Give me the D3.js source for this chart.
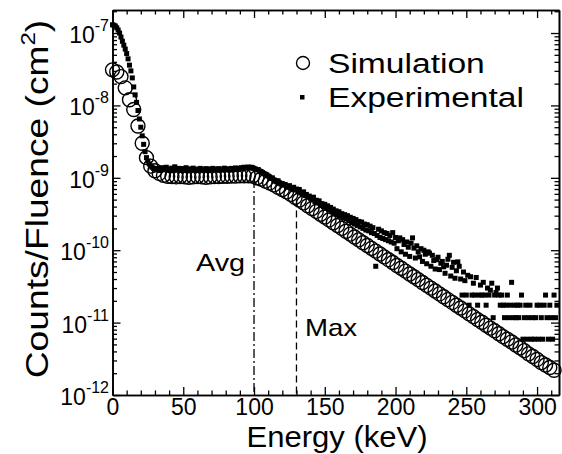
<!DOCTYPE html>
<meta charset="utf-8">
<body style="margin:0;background:#fff">
<script src="https://cdn.jsdelivr.net/npm/d3@7/dist/d3.min.js"></script>
<script>

// values are in units of 1e-12 counts/fluence
var unit = 1e-12;

// simulation, one point every 3 keV starting at 0
var simStep = 3;
var simValues = [
 31000, 29000, 25000, 17500, 12000, 8800, 5200, 3000, 1900, 1450,
 1250, 1150, 1080, 1050, 1040, 1030, 1040, 1030, 1020, 1030,
 1040, 1030, 1020, 1030, 1040, 1040, 1050, 1050, 1060, 1060,
 1070, 1070, 1070, 1060, 1000, 960, 900, 850, 800, 740,
 690, 640, 590, 540, 494, 451, 412, 377, 344, 314,
 287, 262, 239, 219, 200, 183, 167, 152, 139, 127,
 116, 106, 97, 88.5, 81, 74, 67.5, 61.6, 56.3, 51.4,
 47, 42.9, 39.2, 35.8, 32.7, 29.9, 27.3, 24.9, 22.8, 20.8,
 19, 17.4, 15.9, 14.5, 13.2, 12.1, 11, 10.1, 9.2, 8.4,
 7.7, 7, 6.4, 5.9, 5.4, 4.9, 4.5, 4.1, 3.7, 3.4,
 3.1, 2.8, 2.6, 2.4, 2.2
];

// experimental, one point every keV starting at 0
var expStep = 1;
var expValues = [
 130000, 128000, 125000, 118000, 110000, 100000, 88000, 77000, 68000, 60000,
 52000, 44000, 36000, 30000, 24000, 18000, 14000, 11000, 8500, 6500,
 5000, 3800, 2900, 2300, 1900, 1700, 1550, 1450, 1400, 1350,
 1320, 1280, 1350, 1300, 1260, 1380, 1310, 1290, 1400, 1270,
 1330, 1250, 1360, 1300, 1420, 1280, 1310, 1350, 1260, 1300,
 1340, 1270, 1380, 1290, 1250, 1330, 1300, 1360, 1280, 1320,
 1260, 1300, 1350, 1290, 1310, 1270, 1340, 1300, 1260, 1330,
 1290, 1350, 1280, 1310, 1300, 1340, 1270, 1320, 1300, 1360,
 1290, 1330, 1310, 1280, 1350, 1320, 1300, 1370, 1330, 1310,
 1350, 1380, 1340, 1400, 1360, 1390, 1410, 1370, 1400, 1380,
 1350, 1320, 1290, 1300, 1240, 1220, 1180, 1150, 1120, 1100,
 1060, 1030, 980, 1000, 930, 900, 880, 910, 840, 820,
 830, 790, 810, 760, 740, 780, 720, 700, 740, 680,
 700, 650, 690, 620, 600, 640, 570, 590, 540, 560,
 520, 500, 540, 470, 490, 450, 480, 420, 440, 400,
 430, 380, 410, 360, 390, 340, 370, 330, 350, 310,
 340, 300, 320, 280, 310, 270, 300, 255, 285, 240,
 275, 230, 265, 220, 250, 210, 245, 200, 230, 190,
 225, 185, 215, 175, 205, 170, 60, 160, 195, 150,
 185, 145, 175, 140, 170, 135, 160, 130, 175, 125,
 150, 105, 135, 148, 95, 140, 120, 88, 130, 110,
 82, 125, 148, 107, 78, 115, 95, 81, 105, 70,
 100, 88, 65, 95, 91, 60, 85, 72, 55, 74,
 80, 54, 66, 70, 59, 48, 62, 75, 85, 44,
 58, 68, 41, 52, 69, 60, 40, 24, 50, 38,
 24, 45, 17.4, 43, 24, 35, 24, 42, 17.4, 24,
 33, 24, 36, 24, 17.4, 30, 24, 28, 35, 11.7,
 24, 26, 30, 24, 17.4, 24, 17.4, 11.7, 17.4, 24,
 11.7, 17.4, 36, 11.7, 17.4, 11.7, 17.4, 11.7, 17.4, 24,
 5.9, 11.7, 17.4, 5.9, 11.7, 17.4, 5.9, 11.7, 5.9, 11.7,
 17.4, 5.9, 17.4, 11.7, 5.9, 17.4, 24, 11.7, 5.9, 17.4,
 11.7, 5.9, 24, 11.7, 17.4
];

var xMajorTicks = [0, 50, 100, 150, 200, 250, 300];
var yMajorPowers = [-12, -11, -10, -9, -8, -7];
var avgEnergy = 100, avgTop = 9.6e-10;
var maxEnergy = 130, maxTop = 5.0e-10;
var legendLabels = ["Simulation", "Experimental"];
var xTitle = "Energy (keV)";
var yTitle = "Counts/Fluence (cm";

var width = 562, height = 454;
var font = "'Liberation Sans', Arial, Helvetica, sans-serif";

var svg = d3.select("body").append("svg")
            .attr("width", width)
            .attr("height", height)
            .style("font-family", font);

var x = d3.scaleLinear().domain([0, 315.5]).range([112.5, 559]);
var y = d3.scaleLog().domain([1e-12, 2.08e-7]).range([395, 10]);

var xMinorTicks = d3.range(0, 316, 10).filter(function(d){ return d % 50; });
var yMinorTicks = [];
yMajorPowers.forEach(function(p){
  for (var m = 2; m <= 9; m++) {
    var v = m * Math.pow(10, p);
    if (v < y.domain()[1]) yMinorTicks.push(v);
  }
});
var yMajorTicks = yMajorPowers.map(function(p){ return Math.pow(10, p); });

function styleAxis(g) {
  g.selectAll("path").attr("stroke", "#000").attr("stroke-width", 1.6);
  g.selectAll("line").attr("stroke", "#000").attr("stroke-width", 1.3);
}

// bottom + top
svg.append("g").attr("transform", "translate(0,395)")
   .call(d3.axisBottom(x).tickValues(xMajorTicks).tickSizeInner(-8).tickSizeOuter(0)
           .tickPadding(3.5).tickFormat(d3.format("d")))
   .call(styleAxis)
   .selectAll("text").attr("font-size", 23).attr("font-family", font).attr("fill", "#000");
svg.append("g").attr("transform", "translate(0,395)")
   .call(d3.axisBottom(x).tickValues(xMinorTicks).tickSizeInner(-4.5).tickSizeOuter(0).tickFormat(""))
   .call(styleAxis);
svg.append("g").attr("transform", "translate(0,10)")
   .call(d3.axisTop(x).tickValues(xMajorTicks).tickSizeInner(-8).tickSizeOuter(0).tickFormat(""))
   .call(styleAxis);
svg.append("g").attr("transform", "translate(0,10)")
   .call(d3.axisTop(x).tickValues(xMinorTicks).tickSizeInner(-4.5).tickSizeOuter(0).tickFormat(""))
   .call(styleAxis);

// left + right
svg.append("g").attr("transform", "translate(112.5,0)")
   .call(d3.axisLeft(y).tickValues(yMajorTicks).tickSizeInner(-8).tickSizeOuter(0).tickFormat(""))
   .call(styleAxis);
svg.append("g").attr("transform", "translate(112.5,0)")
   .call(d3.axisLeft(y).tickValues(yMinorTicks).tickSizeInner(-4.5).tickSizeOuter(0).tickFormat(""))
   .call(styleAxis);
svg.append("g").attr("transform", "translate(559,0)")
   .call(d3.axisRight(y).tickValues(yMajorTicks).tickSizeInner(-8).tickSizeOuter(0).tickFormat(""))
   .call(styleAxis);
svg.append("g").attr("transform", "translate(559,0)")
   .call(d3.axisRight(y).tickValues(yMinorTicks).tickSizeInner(-4.5).tickSizeOuter(0).tickFormat(""))
   .call(styleAxis);

// y labels 10^n
svg.selectAll("text.ylab")
   .data(yMajorPowers)
   .enter().append("text")
   .attr("class", "ylab")
   .attr("x", 109)
   .attr("y", function(d){ return y(Math.pow(10, d)) + 10; })
   .attr("text-anchor", "end")
   .attr("font-size", 23)
   .each(function(d){
     var t = d3.select(this);
     t.append("tspan").text("10");
     t.append("tspan").attr("dy", -12).attr("font-size", 16).text(String(d));
   });

// reference lines
svg.append("line")
   .attr("x1", x(avgEnergy)).attr("x2", x(avgEnergy))
   .attr("y1", y(avgTop)).attr("y2", 395)
   .attr("stroke", "#000").attr("stroke-width", 1.3)
   .attr("stroke-dasharray", "9,3,2,3");
svg.append("line")
   .attr("x1", x(maxEnergy)).attr("x2", x(maxEnergy))
   .attr("y1", y(maxTop)).attr("y2", 395)
   .attr("stroke", "#000").attr("stroke-width", 1.3)
   .attr("stroke-dasharray", "7,4");

// simulation circles
svg.append("g").selectAll("circle")
   .data(simValues)
   .enter().append("circle")
   .attr("cx", function(d, i){ return x(i * simStep); })
   .attr("cy", function(d){ return y(d * unit); })
   .attr("r", 7)
   .attr("fill", "none")
   .attr("stroke", "#000")
   .attr("stroke-width", 1.4);

// experimental squares
svg.append("g").selectAll("rect")
   .data(expValues)
   .enter().append("rect")
   .attr("x", function(d, i){ return x(i * expStep) - 2.5; })
   .attr("y", function(d){ return y(d * unit) - 2.5; })
   .attr("width", 5)
   .attr("height", 5)
   .attr("fill", "#000");

// labels
svg.append("text").attr("transform", "translate(196,271) scale(1.2,1)")
   .attr("font-size", 24).text("Avg");
svg.append("text").attr("transform", "translate(305,336) scale(1.15,1)")
   .attr("font-size", 24).text("Max");

// legend
svg.append("circle").attr("cx", 303).attr("cy", 63).attr("r", 6.5)
   .attr("fill", "none").attr("stroke", "#000").attr("stroke-width", 1.4);
svg.append("rect").attr("x", 300).attr("y", 95).attr("width", 4.5).attr("height", 4.5)
   .attr("fill", "#000");
svg.append("text").attr("transform", "translate(328,73) scale(1.2,1)")
   .attr("font-size", 28).text(legendLabels[0]);
svg.append("text").attr("transform", "translate(328,107) scale(1.2,1)")
   .attr("font-size", 28).text(legendLabels[1]);

// titles
svg.append("text").attr("transform", "translate(337,446.5) scale(1.07,1)")
   .attr("text-anchor", "middle").attr("font-size", 29).text(xTitle);
var yt = svg.append("text").attr("transform", "translate(48,199) rotate(-90) scale(1.2,1)")
   .attr("text-anchor", "middle").attr("font-size", 31);
yt.append("tspan").text(yTitle);
yt.append("tspan").attr("dy", -13).attr("font-size", 20).text("2");
yt.append("tspan").attr("dy", 13).text(")");

</script>
</body>
